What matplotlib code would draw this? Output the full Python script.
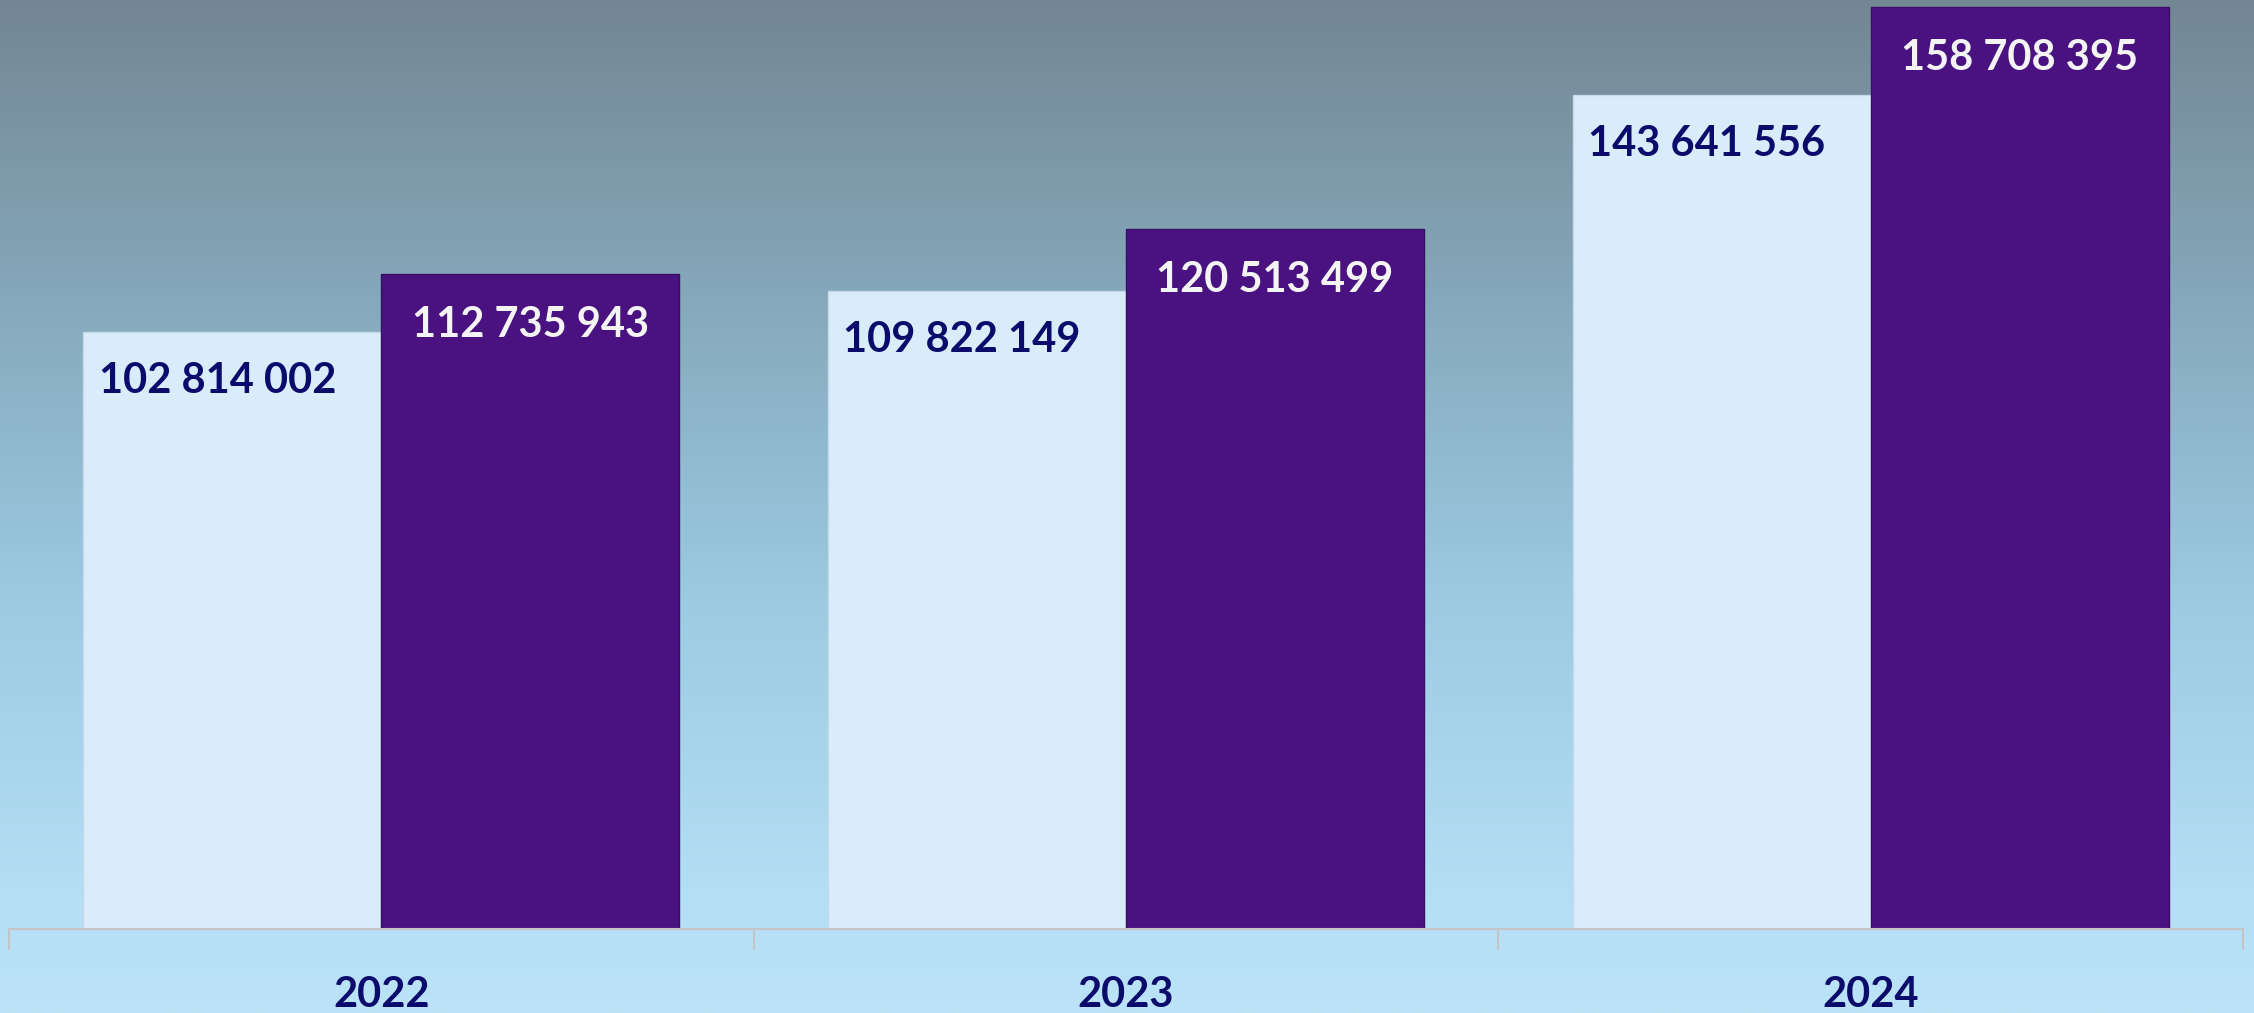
import matplotlib
matplotlib.use("Agg")
import matplotlib.pyplot as plt
import numpy as np
from matplotlib.colors import LinearSegmentedColormap

years = ["2022", "2023", "2024"]
series_a = [102814002, 109822149, 143641556]
series_b = [112735943, 120513499, 158708395]
labels_a = ["102 814 002", "109 822 149", "143 641 556"]
labels_b = ["112 735 943", "120 513 499", "158 708 395"]

W, H = 2254, 1013
fig = plt.figure(figsize=(W / 100, H / 100), dpi=100)

# background gradient
bg = fig.add_axes([0, 0, 1, 1], zorder=0)
cmap = LinearSegmentedColormap.from_list(
    "bg", [(0.0, "#bce3f7"), (0.12, "#b4def4"), (0.4, "#9ccbe3"),
           (0.7, "#86a9bc"), (1.0, "#738693")])
grad = np.linspace(0, 1, 512).reshape(-1, 1)
bg.imshow(grad, aspect="auto", cmap=cmap, origin="lower", extent=[0, 1, 0, 1])
bg.set_axis_off()

ax = fig.add_axes([9 / W, (H - 929) / H, (2243 - 9) / W, 929 / H], zorder=1)
ax.patch.set_alpha(0)

x = np.arange(len(years))
w = 0.4
ax.bar(x - w / 2, series_a, width=w, color="#d9ecfa", edgecolor="#c8d8e8",
       linewidth=1.0, zorder=2)
ax.bar(x + w / 2, series_b, width=w, color="#4a1280", edgecolor="#3a0d66",
       linewidth=1.0, zorder=2)

font = ["Lato", "DejaVu Sans"]
for xi, v, t in zip(x, series_a, labels_a):
    ax.text(xi - w / 2 - 0.02, v - 8.4e6, t, ha="center", va="center", fontsize=30,
            fontweight="bold", color="#0b0b6b", family=font, zorder=3)
for xi, v, t in zip(x, series_b, labels_b):
    ax.text(xi + w / 2, v - 8.7e6, t, ha="center", va="center", fontsize=30,
            fontweight="bold", color="#f4f4f4", family=font, zorder=3)

ax.set_xlim(-0.5, len(years) - 0.5)
ax.set_ylim(0, 160e6)
for s in ["top", "right", "left"]:
    ax.spines[s].set_visible(False)
ax.spines["bottom"].set_color("#c4c4c4")
ax.spines["bottom"].set_linewidth(1.5)
ax.set_yticks([])
ax.set_xticks(np.arange(-0.5, len(years), 1.0))
ax.set_xticklabels([])
ax.tick_params(axis="x", length=15, width=1.5, color="#c4c4c4")
ax.set_xticks(x, minor=True)
ax.set_xticklabels(years, minor=True)
ax.tick_params(axis="x", which="minor", length=0, pad=34, labelsize=30,
               labelcolor="#0b0b6b")
for lbl in ax.get_xticklabels(minor=True):
    lbl.set_fontweight("bold")
    lbl.set_family(font)

fig.savefig("out.png", dpi=100)
